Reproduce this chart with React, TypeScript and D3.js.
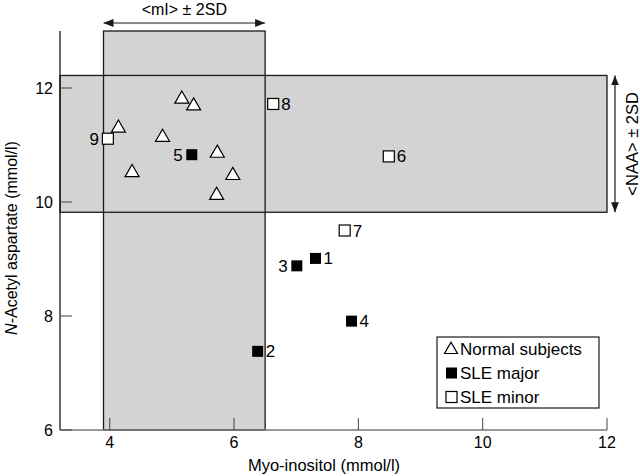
import * as d3 from 'd3';

// Normal subjects (open triangles)
const normalX = [4.14, 4.36, 4.85, 5.16, 5.35, 5.73, 5.98, 5.72];
const normalY = [11.31, 10.53, 11.15, 11.82, 11.7, 10.87, 10.48, 10.13];

// SLE major (filled squares)
const majorIds = ['1', '2', '3', '4', '5'];
const majorX = [7.31, 6.38, 7.01, 7.89, 5.32];
const majorY = [9.01, 7.38, 8.88, 7.91, 10.83];
const majorSide = ['right', 'right', 'left', 'right', 'left'];

// SLE minor (open squares)
const minorIds = ['6', '7', '8', '9'];
const minorX = [8.49, 7.78, 6.63, 3.97];
const minorY = [10.8, 9.5, 11.72, 11.11];
const minorSide = ['right', 'right', 'right', 'left'];

// reference ranges (mean ± 2SD)
const miBand = [3.9, 6.5];
const naaBand = [9.82, 12.22];

const xTicks = [4, 6, 8, 10, 12];
const yTicks = [6, 8, 10, 12];
const legendLabels = ['Normal subjects', 'SLE major', 'SLE minor'];

const FONT = '"Liberation Sans", Arial, Helvetica, sans-serif';

const App = () => {
  const width = 640;
  const height = 476;

  const x = d3.scaleLinear().domain([3.2, 12]).range([60, 607]);
  const y = d3.scaleLinear().domain([6, 13]).range([430, 31]);

  const tri = (cx: number, cy: number, s: number) => {
    const h = (s * Math.sqrt(3)) / 2;
    return `M${cx},${cy - h * 0.6}L${cx + s / 2},${cy + h * 0.4}L${cx - s / 2},${cy + h * 0.4}Z`;
  };

  const sq = 11;
  const edge = '#1a1a1a';
  const fillGray = '#d3d3d3';

  const pointLabel = (id: string, px: number, py: number, side: string) => (
    <text
      key={'l' + id}
      x={side === 'right' ? px + 8 : px - 9}
      y={py + 6}
      textAnchor={side === 'right' ? 'start' : 'end'}
      fontSize={17}
    >
      {id}
    </text>
  );

  const legendRows = [349, 373, 397];

  return (
    <svg
      width={width}
      height={height}
      style={{ position: 'absolute', left: 0, top: 0, background: '#fff' }}
      fontFamily={FONT}
    >
      <defs>
        <marker id="ah" viewBox="0 0 10 8" refX="10" refY="4" markerWidth="10" markerHeight="8" orient="auto-start-reverse" markerUnits="userSpaceOnUse">
          <path d="M0,0L10,4L0,8Z" fill={edge} />
        </marker>
      </defs>

      {/* shaded bands */}
      <rect x={x(3.2)} y={y(naaBand[1])} width={x(12) - x(3.2)} height={y(naaBand[0]) - y(naaBand[1])} fill={fillGray} />
      <rect x={x(miBand[0])} y={y(13)} width={x(miBand[1]) - x(miBand[0])} height={y(6) - y(13)} fill={fillGray} />
      <rect x={x(3.2)} y={y(naaBand[1])} width={x(12) - x(3.2)} height={y(naaBand[0]) - y(naaBand[1])} fill="none" stroke={edge} strokeWidth={1.3} />
      <rect x={x(miBand[0])} y={y(13)} width={x(miBand[1]) - x(miBand[0])} height={y(6) - y(13)} fill="none" stroke={edge} strokeWidth={1.3} />

      {/* range arrows and labels */}
      <line x1={x(miBand[0])} x2={x(miBand[1])} y1={23} y2={23} stroke={edge} strokeWidth={1.2} markerStart="url(#ah)" markerEnd="url(#ah)" />
      <text x={(x(miBand[0]) + x(miBand[1])) / 2} y={15} textAnchor="middle" fontSize={16}>
        {'<mI> ± 2SD'}
      </text>
      <line x1={615} x2={615} y1={y(naaBand[1])} y2={y(naaBand[0])} stroke={edge} strokeWidth={1.2} markerStart="url(#ah)" markerEnd="url(#ah)" />
      <text
        transform={`translate(638,${(y(naaBand[0]) + y(naaBand[1])) / 2}) rotate(-90)`}
        textAnchor="middle"
        fontSize={16.5}
      >
        {'<NAA> ± 2SD'}
      </text>

      {/* axes */}
      <line x1={x(3.2)} x2={x(3.2)} y1={y(13)} y2={y(6)} stroke={edge} strokeWidth={1.3} />
      <line x1={x(3.2)} x2={x(12)} y1={y(6)} y2={y(6)} stroke="#777" strokeWidth={1.5} />
      {xTicks.map((t) => (
        <g key={'xt' + t}>
          <line x1={x(t)} x2={x(t)} y1={y(6)} y2={y(6) - 12} stroke="#444" strokeWidth={1} />
          <text x={x(t)} y={448} textAnchor="middle" fontSize={16}>
            {t}
          </text>
        </g>
      ))}
      {yTicks.map((t) => (
        <g key={'yt' + t}>
          <line x1={x(3.2)} x2={x(3.2) + 12} y1={y(t)} y2={y(t)} stroke="#444" strokeWidth={1} />
          <text x={53} y={y(t) + 6} textAnchor="end" fontSize={16}>
            {t}
          </text>
        </g>
      ))}
      <text x={324} y={471} textAnchor="middle" fontSize={16.5}>
        Myo-inositol (mmol/l)
      </text>
      <text transform={`translate(17,238) rotate(-90)`} textAnchor="middle" fontSize={16}>
        <tspan fontStyle="italic">N</tspan>-Acetyl aspartate (mmol/l)
      </text>

      {/* normal subjects */}
      {normalX.map((v, i) => (
        <path key={'n' + i} d={tri(x(v), y(normalY[i]), 14)} fill="#fff" stroke="#000" strokeWidth={1.2} />
      ))}

      {/* SLE major */}
      {majorX.map((v, i) => {
        const px = x(v);
        const py = y(majorY[i]);
        return (
          <g key={'M' + i}>
            <rect x={px - sq / 2} y={py - sq / 2} width={sq} height={sq} fill="#000" />
            {pointLabel(majorIds[i], px, py, majorSide[i])}
          </g>
        );
      })}

      {/* SLE minor */}
      {minorX.map((v, i) => {
        const px = x(v);
        const py = y(minorY[i]);
        return (
          <g key={'m' + i}>
            <rect x={px - sq / 2} y={py - sq / 2} width={sq} height={sq} fill="#fff" stroke="#000" strokeWidth={1.2} />
            {pointLabel(minorIds[i], px, py, minorSide[i])}
          </g>
        );
      })}

      {/* legend */}
      <rect x={437} y={337} width={162} height={71} fill="#fff" stroke={edge} strokeWidth={1.2} />
      <path d={tri(451, legendRows[0], 13)} fill="#fff" stroke="#000" strokeWidth={1.2} />
      <rect x={446} y={legendRows[1] - 5.5} width={11} height={11} fill="#000" />
      <rect x={446} y={legendRows[2] - 5.5} width={11} height={11} fill="#fff" stroke="#000" strokeWidth={1.2} />
      {legendLabels.map((l, i) => (
        <text key={l} x={460} y={legendRows[i] + 6} fontSize={17}>
          {l}
        </text>
      ))}
    </svg>
  );
};

export default App;
